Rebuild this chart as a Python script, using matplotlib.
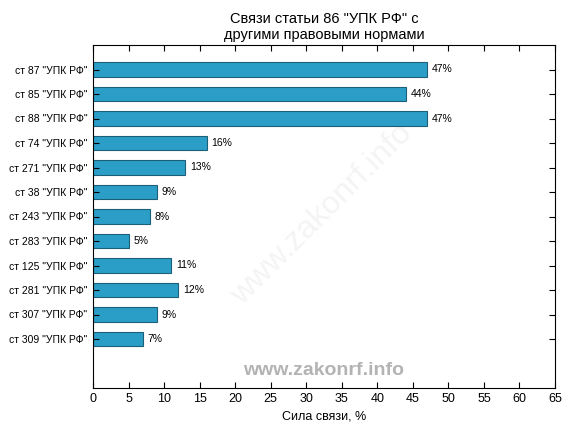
import matplotlib
matplotlib.use('Agg')
import matplotlib.pyplot as plt

plt.rcParams['font.family'] = ['Liberation Sans', 'DejaVu Sans']

# Data
labels = ['ст 87 "УПК РФ"', 'ст 85 "УПК РФ"', 'ст 88 "УПК РФ"', 'ст 74 "УПК РФ"',
          'ст 271 "УПК РФ"', 'ст 38 "УПК РФ"', 'ст 243 "УПК РФ"', 'ст 283 "УПК РФ"',
          'ст 125 "УПК РФ"', 'ст 281 "УПК РФ"', 'ст 307 "УПК РФ"', 'ст 309 "УПК РФ"']
values = [47, 44, 47, 16, 13, 9, 8, 5, 11, 12, 9, 7]
xticks = list(range(0, 70, 5))

fig = plt.figure(figsize=(5.76, 4.32), dpi=100)
ax = fig.add_axes([93/576, 1 - 388/432, (555 - 93)/576, (388 - 45)/432])

pos = list(range(len(values)))
ax.barh(pos, values, height=0.6, color='#2b9ec8', edgecolor='#1b5f78', linewidth=0.8)
for p, v in zip(pos, values):
    ax.text(v + 0.7, p, f'{v}%', va='center', ha='left', fontsize=7.5)

ax.set_ylim(13, -1)
ax.set_xlim(0, 65)
ax.set_yticks(pos)
ax.set_yticklabels(labels, fontsize=7.5)
ax.set_xticks(xticks)
ax.tick_params(axis='x', labelsize=9, direction='in', top=True, length=4)
ax.tick_params(axis='y', direction='in', right=True, length=4, pad=4)
ax.set_xlabel('Сила связи, %', fontsize=9)
ax.set_title('Связи статьи 86 "УПК РФ" с\nдругими правовыми нормами', fontsize=10.5, pad=4)

# watermarks
ax.text(0.495, 0.505, 'www.zakonrf.info', transform=ax.transAxes, rotation=45,
        ha='center', va='center', fontsize=23, color='#f4f4f4', zorder=0)
ax.text(0.5, 0.05, 'www.zakonrf.info', transform=ax.transAxes,
        ha='center', va='center', fontsize=14, fontweight='bold', color='#b3b3b3')

fig.savefig('out.png', dpi=100)
